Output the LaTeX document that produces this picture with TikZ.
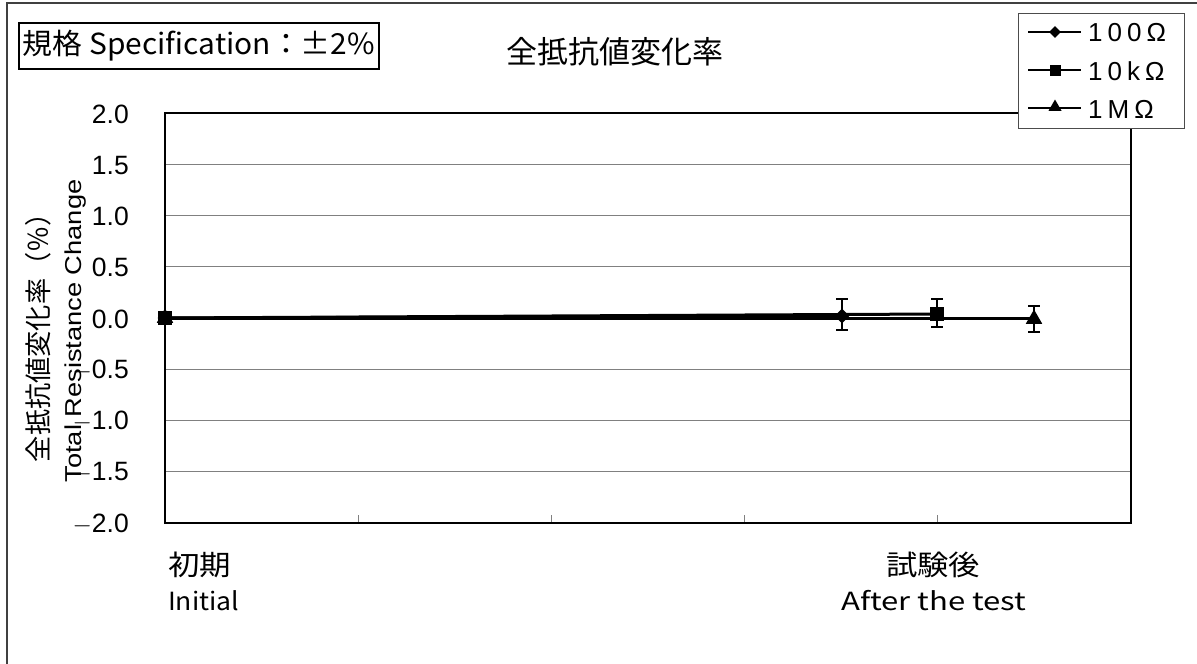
\documentclass[tikz,border=0pt]{standalone}
\usepackage{graphicx}
\usepackage{fontspec}
\setmainfont{Liberation Sans}
\newfontfamily\jp{Noto Sans CJK JP}
\usetikzlibrary{shapes.geometric}
\tikzset{
  grid line/.style={draw=black!50, line width=1pt},
  plot frame/.style={draw=black, line width=2.6pt},
  data line/.style={draw=black, line width=3pt},
  err bar/.style={draw=black, line width=2pt},
  dmark/.style={diamond, fill=black, minimum width=15pt, minimum height=15pt, inner sep=0pt},
  smark/.style={rectangle, fill=black, minimum size=14pt, inner sep=0pt},
  tmark/.style={regular polygon, regular polygon sides=3, fill=black, minimum size=19pt, inner sep=0pt},
  ticklab/.style={anchor=east, inner sep=0pt, font=\fontsize{26.5}{26.5}\selectfont},
  legbox/.style={draw=black!70, line width=1pt, fill=white},
  legtext/.style={anchor=west, inner sep=0pt, font=\fontsize{26}{26}\selectfont},
}
\newcommand{\lgap}{\kern5pt}
\begin{document}
\begin{tikzpicture}[x=1pt,y=-1pt,
  declare function={yv(\v)=318-\v*102.5;}]
\useasboundingbox (0,0) rectangle (1197,664);
\fill[white] (0,0) rectangle (1197,664);
% outer frame (left and top only visible)
\draw[black!75, line width=1.5pt] (7,664) -- (7,3) -- (1197,3);

% spec box
\node[draw=black, line width=1.6pt, minimum width=360pt, minimum height=46pt, inner sep=0pt] (spec) at (199,46)
  {\jp\fontsize{29}{29}\selectfont\resizebox{352pt}{\height}{規格 Specification：±2\%}};
% title
\node[inner sep=0pt] (title) at (615,52) {\jp\fontsize{31}{31}\selectfont 全抵抗値変化率};

% grid lines
\foreach \v in {1.5,1.0,0.5,-0.5,-1.0,-1.5}
  \draw[grid line] (165,{yv(\v)}) -- (1131,{yv(\v)});
% bottom ticks
\foreach \x in {358,551,744,937}
  \draw[grid line] (\x,523) -- (\x,515);
% plot frame
\draw[plot frame] (165,113) rectangle (1131,523);

% y tick labels
\foreach \v/\t in {2.0/2.0,1.5/1.5,1.0/1.0,0.5/0.5,0.0/0.0,-0.5/$-$0.5,-1.0/$-$1.0,-1.5/$-$1.5,-2.0/$-$2.0}
  \node[ticklab] at (129,{yv(\v)+1}) {\t};

% axis titles
\node[rotate=90, inner sep=0pt] (yjp) at (38,331) {\jp\fontsize{27}{27}\selectfont\resizebox{262pt}{\height}{全抵抗値変化率（％）}};
\node[rotate=90, inner sep=0pt] (yen) at (76,331) {\fontsize{23}{23}\selectfont\resizebox{303pt}{\height}{Total Resistance Change}};

% x category labels
\node[anchor=west, inner sep=0pt] (xjp1) at (168,565) {\jp\fontsize{28}{28}\selectfont\resizebox{63pt}{\height}{初期}};
\node[anchor=west, inner sep=0pt] (xen1) at (168,601) {\jp\fontsize{25}{25}\selectfont\resizebox{71pt}{\height}{Initial}};
\node[inner sep=0pt] (xjp2) at (933,565) {\jp\fontsize{28}{28}\selectfont\resizebox{94pt}{\height}{試験後}};
\node[inner sep=0pt] (xen2) at (934,601) {\jp\fontsize{25}{25}\selectfont\resizebox{185pt}{\height}{After the test}};

% data coordinates
\coordinate (a0) at (165,{yv(0)});
\coordinate (a1) at (842,316);
\coordinate (b1) at (937,314);
\coordinate (c1) at (1034,318);
\coordinate (a1t) at (842,299); \coordinate (a1b) at (842,330);
\coordinate (b1t) at (937,299); \coordinate (b1b) at (937,327);
\coordinate (c1t) at (1034,306); \coordinate (c1b) at (1034,332);

% series lines
\draw[data line] (a0) -- (a1);
\draw[data line] (a0) -- (b1);
\draw[data line] (a0) -- (c1);

% error bars
\foreach \p in {a1,b1,c1}{
  \draw[err bar] (\p t) -- (\p b);
  \draw[err bar] ([xshift=-6pt]\p t) -- ([xshift=6pt]\p t);
  \draw[err bar] ([xshift=-6pt]\p b) -- ([xshift=6pt]\p b);
}

% markers
\node[dmark] (m100i) at (a0) {};
\node[tmark] (m1Mi) at (a0) {};
\node[smark] (m10ki) at (a0) {};
\node[dmark] (m100a) at (a1) {};
\node[smark] (m10ka) at (b1) {};
\node[tmark] (m1Ma) at ([yshift=-1pt]c1) {};

% legend
\node[legbox, minimum width=166pt, minimum height=115pt, inner sep=0pt] (leg) at (1101,70.5) {};
\coordinate (l1a) at (1028,32); \coordinate (l1b) at (1081,32);
\coordinate (l2a) at (1028,70); \coordinate (l2b) at (1081,70);
\coordinate (l3a) at (1028,108); \coordinate (l3b) at (1081,108);
\draw[line width=2pt] (l1a) -- (l1b);
\draw[line width=2pt] (l2a) -- (l2b);
\draw[line width=2pt] (l3a) -- (l3b);
\node[dmark, minimum width=12pt, minimum height=12pt] (ld1) at (1055,32) {};
\node[smark, minimum size=11pt] (ld2) at (1055,70) {};
\node[tmark, minimum size=15pt] (ld3) at (1055,107) {};
\node[legtext] (lt1) at (1088,33) {1\lgap 0\lgap 0\lgap Ω};
\node[legtext] (lt2) at (1088,71) {1\lgap 0\lgap k\lgap Ω};
\node[legtext] (lt3) at (1088,109) {1\lgap M\lgap Ω};
\end{tikzpicture}
\end{document}
